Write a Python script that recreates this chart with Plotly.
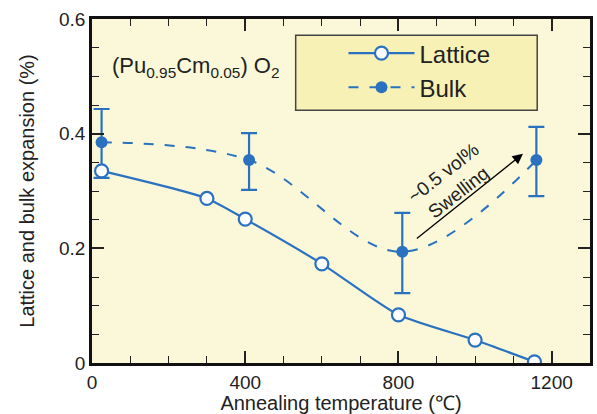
import plotly.graph_objects as go

# Data
lattice_temp = [25, 300, 400, 600, 800, 1000, 1155]
lattice_exp = [0.335, 0.287, 0.251, 0.173, 0.084, 0.040, 0.002]

bulk_temp = [25, 410, 810, 1160]
bulk_exp = [0.385, 0.354, 0.194, 0.354]
bulk_err_plus = [0.058, 0.047, 0.068, 0.058]
bulk_err_minus = [0.062, 0.052, 0.072, 0.063]

x_ticks = [0, 400, 800, 1200]
y_ticks = [0, 0.2, 0.4, 0.6]
y_tick_labels = ["0", "0.2", "0.4", "0.6"]

BLUE = "#2A72C0"
FONT = "Liberation Sans, Arial, sans-serif"

fig = go.Figure()

fig.add_trace(go.Scatter(
    x=bulk_temp, y=bulk_exp, name="Bulk", mode="lines+markers",
    line=dict(color=BLUE, width=2, dash="10px,11px", shape="spline", smoothing=1.0),
    marker=dict(symbol="circle", size=12, color=BLUE, line=dict(width=0)),
    error_y=dict(type="data", symmetric=False, array=bulk_err_plus,
                 arrayminus=bulk_err_minus, color=BLUE, thickness=2.2, width=8),
))

fig.add_trace(go.Scatter(
    x=lattice_temp, y=lattice_exp, name="Lattice", mode="lines+markers",
    line=dict(color=BLUE, width=2.2, shape="spline", smoothing=0.6),
    marker=dict(symbol="circle", size=13, color="white", line=dict(color=BLUE, width=2.2)),
))

fig.update_layout(
    width=597, height=414,
    margin=dict(l=92, r=4, t=19, b=51),
    paper_bgcolor="white",
    plot_bgcolor="#FBF8DA",
    font=dict(family=FONT, color="#222222", size=19),
    showlegend=True,
    legend=dict(
        x=0.505, y=0.965, xanchor="left", yanchor="top",
        bgcolor="rgba(0,0,0,0)", borderwidth=0,
        font=dict(size=24, family=FONT, color="#222222"),
        traceorder="reversed", itemwidth=66, tracegroupgap=0,
    ),
    shapes=[dict(
        type="rect", xref="paper", yref="paper",
        x0=0.409, x1=0.894, y0=0.735, y1=0.953,
        fillcolor="#F8F1B6", line=dict(color="#444444", width=1.5), layer="below",
    )],
    annotations=[
        dict(x=272, y=0.516, xref="x", yref="y", showarrow=False,
             text="(Pu<sub>0.95</sub>Cm<sub>0.05</sub>) O<sub>2</sub>",
             font=dict(size=22, family=FONT, color="#222222")),
        dict(x=1125, y=0.365, ax=844, ay=0.215, xref="x", yref="y",
             axref="x", ayref="y", text="", showarrow=True,
             arrowhead=2, arrowsize=1.6, arrowwidth=1.3, arrowcolor="black"),
        dict(x=936, y=0.314, xref="x", yref="y", showarrow=False,
             text="~0.5 vol%<br>Swelling", textangle=-38,
             font=dict(size=19, family=FONT, color="#222222")),
    ],
)

fig.update_xaxes(
    range=[0, 1300], tickvals=x_ticks, ticks="inside", ticklen=12, tickwidth=1.5,
    tickcolor="#222222", showline=True, linewidth=2.5, linecolor="#111111",
    mirror="allticks", showgrid=False, zeroline=False,
    minor=dict(dtick=100, ticks="inside", ticklen=7, tickwidth=1.2, tickcolor="#222222"),
    title=dict(text="Annealing temperature (℃)", font=dict(size=20), standoff=2),
    tickfont=dict(size=19),
)
fig.update_yaxes(
    range=[0, 0.6], tickvals=y_ticks, ticktext=y_tick_labels, ticks="inside",
    ticklen=12, tickwidth=1.5, tickcolor="#222222", showline=True, linewidth=2.5,
    linecolor="#111111", mirror="allticks", showgrid=False, zeroline=False,
    minor=dict(dtick=0.05, ticks="inside", ticklen=7, tickwidth=1.2, tickcolor="#222222"),
    title=dict(text="Lattice and bulk expansion (%)", font=dict(size=20), standoff=20),
    tickfont=dict(size=19),
)

fig.write_html("out.html", post_script="document.body.style.margin='0';",
               config={"displayModeBar": False})
